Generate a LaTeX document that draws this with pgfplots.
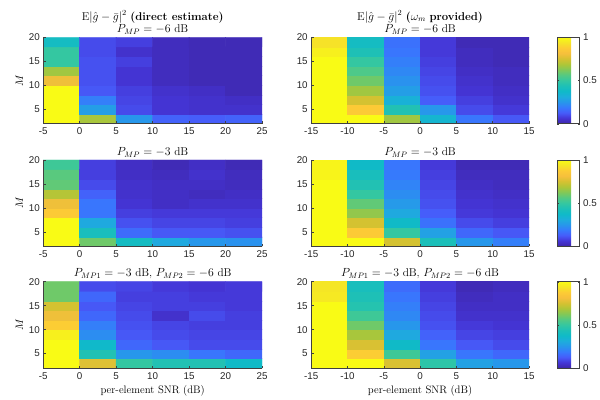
\documentclass[border=0pt]{standalone}
\usepackage{fontspec}
\usepackage{amsmath}
\usepackage{pgfplots}
\usepackage{pgfplotstable}
\pgfplotsset{compat=1.18}
\newfontfamily\helv{Liberation Sans}

\pgfplotsset{colormap={parula}{
 rgb=(0.2422,0.1504,0.6603) rgb=(0.2691,0.2051,0.8331) rgb=(0.2780,0.3556,0.9777)
 rgb=(0.2147,0.4754,0.9922) rgb=(0.1540,0.5902,0.9218) rgb=(0.1160,0.6790,0.8630)
 rgb=(0.0590,0.7290,0.7870) rgb=(0.1140,0.7530,0.7180) rgb=(0.2050,0.7810,0.6300)
 rgb=(0.3290,0.7880,0.5130) rgb=(0.5040,0.7860,0.3480) rgb=(0.6800,0.7760,0.2200)
 rgb=(0.8310,0.7590,0.1920) rgb=(0.9620,0.7500,0.2360) rgb=(0.9910,0.7950,0.2090)
 rgb=(0.9620,0.8960,0.1500) rgb=(0.9769,0.9839,0.0805)}}

% Panel A: direct estimate, P_MP=-6 dB
\pgfplotstableread{
x y c
-2.5 3 1
2.5 3 0.68
7.5 3 0.25
12.5 3 0.14
17.5 3 0.13
22.5 3 0.14
-2.5 5 1
2.5 5 0.27
7.5 5 0.10
12.5 5 0.06
17.5 5 0.05
22.5 5 0.05
-2.5 7 1
2.5 7 0.2
7.5 7 0.09
12.5 7 0.06
17.5 7 0.05
22.5 7 0.04
-2.5 9 1
2.5 9 0.12
7.5 9 0.08
12.5 9 0.05
17.5 9 0.04
22.5 9 0.02
-2.5 11 0.8
2.5 11 0.11
7.5 11 0.06
12.5 11 0.03
17.5 11 0.02
22.5 11 0.02
-2.5 13 0.67
2.5 13 0.11
7.5 13 0.06
12.5 13 0.03
17.5 13 0.02
22.5 13 0.02
-2.5 15 0.5
2.5 15 0.11
7.5 15 0.08
12.5 15 0.03
17.5 15 0.02
22.5 15 0.02
-2.5 17 0.5
2.5 17 0.1
7.5 17 0.05
12.5 17 0.03
17.5 17 0.02
22.5 17 0.02
-2.5 19 0.4
2.5 19 0.1
7.5 19 0.08
12.5 19 0.03
17.5 19 0.02
22.5 19 0.02
}\dataA

% Panel B: omega provided, P_MP=-6 dB
\pgfplotstableread{
x y c
-12.5 3 1
-7.5 3 1
-2.5 3 0.67
2.5 3 0.35
7.5 3 0.18
12.5 3 0.12
-12.5 5 1
-7.5 5 0.87
-2.5 5 0.45
2.5 5 0.25
7.5 5 0.1
12.5 5 0.07
-12.5 7 1
-7.5 7 0.75
-2.5 7 0.33
2.5 7 0.13
7.5 7 0.08
12.5 7 0.05
-12.5 9 1
-7.5 9 0.67
-2.5 9 0.27
2.5 9 0.11
7.5 9 0.06
12.5 9 0.04
-12.5 11 1
-7.5 11 0.6
-2.5 11 0.24
2.5 11 0.1
7.5 11 0.05
12.5 11 0.03
-12.5 13 1
-7.5 13 0.55
-2.5 13 0.22
2.5 13 0.09
7.5 13 0.04
12.5 13 0.03
-12.5 15 1
-7.5 15 0.5
-2.5 15 0.2
2.5 15 0.08
7.5 15 0.03
12.5 15 0.02
-12.5 17 0.97
-7.5 17 0.44
-2.5 17 0.18
2.5 17 0.07
7.5 17 0.03
12.5 17 0.02
-12.5 19 0.93
-7.5 19 0.4
-2.5 19 0.17
2.5 19 0.07
7.5 19 0.02
12.5 19 0.02
}\dataB

% Panel C: direct estimate, P_MP=-3 dB
\pgfplotstableread{
x y c
-2.5 3 1
2.5 3 0.6
7.5 3 0.4
12.5 3 0.3
17.5 3 0.25
22.5 3 0.24
-2.5 5 1
2.5 5 0.42
7.5 5 0.16
12.5 5 0.12
17.5 5 0.12
22.5 5 0.11
-2.5 7 1
2.5 7 0.3
7.5 7 0.11
12.5 7 0.09
17.5 7 0.09
22.5 7 0.08
-2.5 9 0.87
2.5 9 0.18
7.5 9 0.08
12.5 9 0.07
17.5 9 0.07
22.5 9 0.07
-2.5 11 0.8
2.5 11 0.18
7.5 11 0.06
12.5 11 0.04
17.5 11 0.05
22.5 11 0.05
-2.5 13 0.7
2.5 13 0.14
7.5 13 0.05
12.5 13 0.04
17.5 13 0.03
22.5 13 0.04
-2.5 15 0.58
2.5 15 0.1
7.5 15 0.05
12.5 15 0.04
17.5 15 0.04
22.5 15 0.03
-2.5 17 0.57
2.5 17 0.08
7.5 17 0.04
12.5 17 0.03
17.5 17 0.05
22.5 17 0.03
-2.5 19 0.52
2.5 19 0.08
7.5 19 0.04
12.5 19 0.02
17.5 19 0.04
22.5 19 0.02
}\dataC

% Panel D: omega provided, P_MP=-3 dB
\pgfplotstableread{
x y c
-12.5 3 1
-7.5 3 1
-2.5 3 0.75
2.5 3 0.43
7.5 3 0.25
12.5 3 0.2
-12.5 5 1
-7.5 5 0.87
-2.5 5 0.5
2.5 5 0.28
7.5 5 0.15
12.5 5 0.12
-12.5 7 1
-7.5 7 0.75
-2.5 7 0.38
2.5 7 0.17
7.5 7 0.1
12.5 7 0.08
-12.5 9 1
-7.5 9 0.65
-2.5 9 0.3
2.5 9 0.13
7.5 9 0.07
12.5 9 0.06
-12.5 11 1
-7.5 11 0.58
-2.5 11 0.26
2.5 11 0.11
7.5 11 0.06
12.5 11 0.05
-12.5 13 1
-7.5 13 0.5
-2.5 13 0.23
2.5 13 0.1
7.5 13 0.05
12.5 13 0.04
-12.5 15 1
-7.5 15 0.45
-2.5 15 0.21
2.5 15 0.09
7.5 15 0.04
12.5 15 0.03
-12.5 17 0.98
-7.5 17 0.42
-2.5 17 0.19
2.5 17 0.08
7.5 17 0.03
12.5 17 0.03
-12.5 19 0.98
-7.5 19 0.38
-2.5 19 0.18
2.5 19 0.07
7.5 19 0.02
12.5 19 0.02
}\dataD

% Panel E: direct estimate, P_MP1=-3 dB, P_MP2=-6 dB
\pgfplotstableread{
x y c
-2.5 3 1
2.5 3 0.77
7.5 3 0.5
12.5 3 0.45
17.5 3 0.45
22.5 3 0.38
-2.5 5 1
2.5 5 0.45
7.5 5 0.25
12.5 5 0.23
17.5 5 0.18
22.5 5 0.15
-2.5 7 1
2.5 7 0.37
7.5 7 0.15
12.5 7 0.12
17.5 7 0.1
22.5 7 0.1
-2.5 9 0.97
2.5 9 0.23
7.5 9 0.12
12.5 9 0.1
17.5 9 0.09
22.5 9 0.09
-2.5 11 0.88
2.5 11 0.2
7.5 11 0.11
12.5 11 0.09
17.5 11 0.08
22.5 11 0.08
-2.5 13 0.8
2.5 13 0.15
7.5 13 0.1
12.5 13 0.05
17.5 13 0.1
22.5 13 0.08
-2.5 15 0.75
2.5 15 0.12
7.5 15 0.09
12.5 15 0.08
17.5 15 0.08
22.5 15 0.07
-2.5 17 0.6
2.5 17 0.15
7.5 17 0.08
12.5 17 0.08
17.5 17 0.07
22.5 17 0.07
-2.5 19 0.6
2.5 19 0.1
7.5 19 0.09
12.5 19 0.07
17.5 19 0.06
22.5 19 0.07
}\dataE

% Panel F: omega provided, P_MP1=-3 dB, P_MP2=-6 dB
\pgfplotstableread{
x y c
-12.5 3 1
-7.5 3 1
-2.5 3 0.76
2.5 3 0.48
7.5 3 0.28
12.5 3 0.25
-12.5 5 1
-7.5 5 0.88
-2.5 5 0.52
2.5 5 0.28
7.5 5 0.18
12.5 5 0.15
-12.5 7 1
-7.5 7 0.76
-2.5 7 0.38
2.5 7 0.18
7.5 7 0.12
12.5 7 0.1
-12.5 9 1
-7.5 9 0.68
-2.5 9 0.3
2.5 9 0.14
7.5 9 0.09
12.5 9 0.08
-12.5 11 1
-7.5 11 0.6
-2.5 11 0.25
2.5 11 0.11
7.5 11 0.07
12.5 11 0.06
-12.5 13 1
-7.5 13 0.52
-2.5 13 0.22
2.5 13 0.1
7.5 13 0.05
12.5 13 0.05
-12.5 15 1
-7.5 15 0.46
-2.5 15 0.2
2.5 15 0.09
7.5 15 0.04
12.5 15 0.04
-12.5 17 0.95
-7.5 17 0.44
-2.5 17 0.18
2.5 17 0.08
7.5 17 0.03
12.5 17 0.04
-12.5 19 0.94
-7.5 19 0.42
-2.5 19 0.16
2.5 19 0.07
7.5 19 0.02
12.5 19 0.03
}\dataF

\pgfplotsset{
 hm/.style={
  scale only axis, height=88pt,
  ymin=2, ymax=20, ytick={5,10,15,20},
  colormap name=parula, point meta min=0, point meta max=1,
  axis on top,
  axis x line*=bottom, axis y line*=left,
  axis line style={-, draw=black!75, line width=0.5pt},
  tick align=inside, major tick length=2.5pt,
  tick style={black!75, line width=0.5pt},
  tick label style={font=\helv\fontsize{10}{11}\selectfont, text=black!85},
  /pgf/number format/assume math mode=true,
  title style={font=\fontsize{11.5}{13}\selectfont, inner sep=1.5pt, align=center, yshift=-5pt},
  label style={font=\fontsize{11}{12}\selectfont},
  xticklabel style={yshift=-1pt},
  xlabel style={yshift=1pt},
 },
 hmL/.style={hm, width=223pt, xmin=-5, xmax=25, xtick={-5,0,...,25},
  ylabel={$M$}, ylabel style={yshift=-1pt}},
 hmR/.style={hm, width=222pt, xmin=-15, xmax=15, xtick={-15,-10,...,15},
  colorbar,
  colorbar style={
   at={(parent axis.north east)}, anchor=north west, xshift=20pt,
   width=23pt, ytick={0,0.5,1},
   axis line style={draw=black!75, line width=0.6pt},
   tick align=inside, major tick length=2pt,
   tick style={black!75},
   yticklabel style={font=\helv\fontsize{10}{11}\selectfont, text=black!85},
   /pgf/number format/assume math mode=true,
  }},
}

\begin{document}
\begin{tikzpicture}
\path (0,0) rectangle (600pt,407pt);

% Row 1
\begin{axis}[hmL, at={(44pt,281pt)}, anchor=south west,
  title={$\mathrm{E}|\hat{g}-\bar{g}|^2$ \textbf{(direct estimate)}\\$P_{MP}=-6$ dB}]
\addplot[matrix plot*, mesh/cols=6, point meta=explicit] table[meta=c] {\dataA};
\end{axis}
\begin{axis}[hmR, at={(317pt,281pt)}, anchor=south west,
  title={$\mathrm{E}|\hat{g}-\bar{g}|^2$ \textbf{(}$\omega_m$ \textbf{provided)}\\$P_{MP}=-6$ dB}]
\addplot[matrix plot*, mesh/cols=6, point meta=explicit] table[meta=c] {\dataB};
\end{axis}

% Row 2
\begin{axis}[hmL, at={(44pt,156pt)}, anchor=south west,
  title={$P_{MP}=-3$ dB}]
\addplot[matrix plot*, mesh/cols=6, point meta=explicit] table[meta=c] {\dataC};
\end{axis}
\begin{axis}[hmR, at={(317pt,156pt)}, anchor=south west,
  title={$P_{MP}=-3$ dB}]
\addplot[matrix plot*, mesh/cols=6, point meta=explicit] table[meta=c] {\dataD};
\end{axis}

% Row 3
\begin{axis}[hmL, at={(44pt,32pt)}, anchor=south west,
  title={$P_{MP1}=-3$ dB, $P_{MP2}=-6$ dB},
  xlabel={per-element SNR (dB)}]
\addplot[matrix plot*, mesh/cols=6, point meta=explicit] table[meta=c] {\dataE};
\end{axis}
\begin{axis}[hmR, at={(317pt,32pt)}, anchor=south west,
  title={$P_{MP1}=-3$ dB, $P_{MP2}=-6$ dB},
  xlabel={per-element SNR (dB)}]
\addplot[matrix plot*, mesh/cols=6, point meta=explicit] table[meta=c] {\dataF};
\end{axis}
\end{tikzpicture}
\end{document}
